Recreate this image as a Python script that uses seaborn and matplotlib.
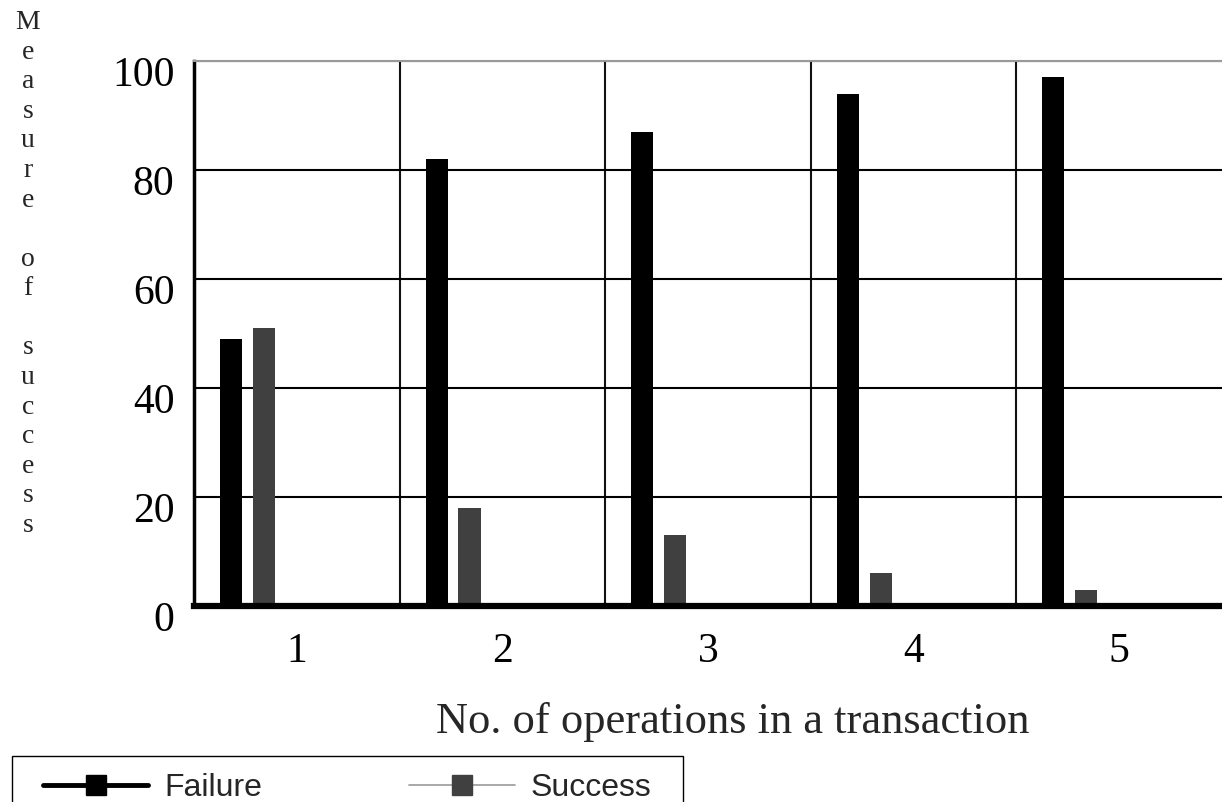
import pandas as pd
import matplotlib.pyplot as plt
import seaborn as sns
from matplotlib.lines import Line2D
from matplotlib.patches import Rectangle
from matplotlib.transforms import ScaledTranslation

# data
ops = ["1", "2", "3", "4", "5"]
failure = [49, 82, 87, 94, 97]
success = [51, 18, 13, 6, 3]
series = ["Failure", "Success"]
colors = ["#000000", "#404040"]
yticks = [0, 20, 40, 60, 80, 100]

# empty hue slots so the two bars sit at the left of each group
spare = ["_s1", "_s2", "_s3"]

df = pd.DataFrame({
    "ops": ops * 2,
    "outcome": ["Failure"] * len(ops) + ["Success"] * len(ops),
    "value": failure + success,
})

sns.set_style("white")
plt.rcParams["font.family"] = ["Liberation Serif", "DejaVu Serif"]

W, H = 1222, 802
fig = plt.figure(figsize=(W / 100, H / 100), dpi=100)
ax = fig.add_axes([194 / W, 1 - 606 / H, 1 - 194 / W, 545 / H])

palette = dict(zip(series + spare, colors + ["white"] * 3))
sns.barplot(data=df, x="ops", y="value", hue="outcome", order=ops,
            hue_order=series + spare, palette=palette, width=0.8, gap=0.33,
            saturation=1, linewidth=0, legend=False, ax=ax)

ax.set_ylim(0, 100)
ax.set_yticks(yticks)
ax.set_xticks([0.5, 1.5, 2.5, 3.5], minor=True)
ax.set_axisbelow(True)
ax.grid(False)
ax.grid(axis="y", which="major", color="black", lw=1.5)
ax.grid(axis="x", which="minor", color="#111111", lw=1.5)

ax.spines["left"].set_color("black")
ax.spines["left"].set_linewidth(2.5)
ax.spines["bottom"].set_color("black")
ax.spines["bottom"].set_linewidth(4.5)
ax.spines["top"].set_color("#999999")
ax.spines["top"].set_linewidth(1.5)
ax.spines["right"].set_visible(False)

ax.tick_params(axis="both", which="both", length=0, labelsize=30, colors="black")
ax.tick_params(axis="y", pad=14)
ax.tick_params(axis="x", pad=19)
for lab in ax.get_yticklabels():
    lab.set_transform(lab.get_transform() + ScaledTranslation(0, -0.10, fig.dpi_scale_trans))

ax.set_ylabel("")
ax.set_xlabel("No. of operations in a transaction", fontsize=32, va="center")
ax.xaxis.set_label_coords((733 - 194) / 1028, -0.213)

# stacked vertical y label
fig.text(28 / W, 1 - 274 / H, "\n".join("Measure of success"), fontsize=20,
         ha="center", va="center", linespacing=1.24)

# legend
handles = [
    Line2D([], [], color="black", lw=3.5, marker="s", markersize=15,
           markerfacecolor=colors[0], markeredgecolor=colors[0]),
    Line2D([], [], color="#999999", lw=1.2, marker="s", markersize=15,
           markerfacecolor=colors[1], markeredgecolor=colors[1]),
]
fig.legend(handles, series, loc="upper left", bbox_to_anchor=(43 / W, 1 - 773 / H),
           ncol=2, frameon=False, borderpad=0, borderaxespad=0,
           prop={"family": "Liberation Sans", "size": 23},
           handlelength=3.3, handletextpad=0.5, columnspacing=4.6)
fig.patches.append(Rectangle((12 / W, -0.05), (683 - 12) / W, 0.05 + 46 / H,
                             transform=fig.transFigure, fill=False,
                             edgecolor="black", lw=1))

fig.savefig("out.png", dpi=100)
